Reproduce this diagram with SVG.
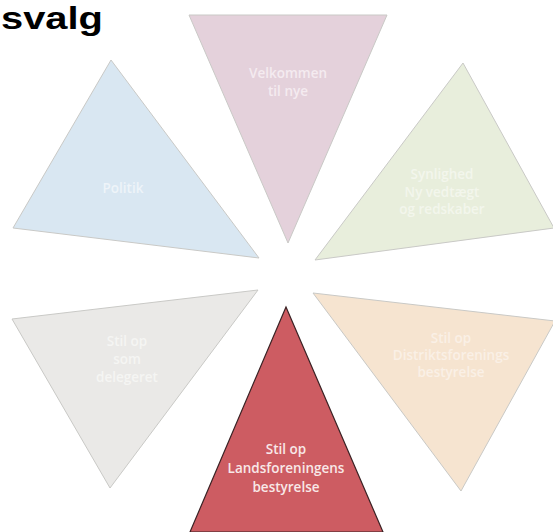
<svg xmlns="http://www.w3.org/2000/svg" width="553" height="532" viewBox="0 0 553 532">
<style>
.tri{stroke:#c9c9c6;stroke-width:1}
.lbl{font-family:"Open Sans","Noto Sans","Liberation Sans",sans-serif;font-size:13.5px;font-weight:600;text-anchor:middle}
.title{font-family:"Liberation Sans",Arial,sans-serif;font-weight:bold;font-size:31px;fill:#000}
</style>
<rect width="553" height="532" fill="#ffffff"/>
<text class="title" x="1" y="29" textLength="102" lengthAdjust="spacingAndGlyphs">svalg</text>
<g id="velkommen">
<polygon class="tri" points="189,15 387,15 288,243" fill="#e4d1db"/>
<text class="lbl" fill="#f4ebf0"><tspan x="288" y="78">Velkommen</tspan><tspan x="288" y="96">til nye</tspan></text>
</g>
<g id="politik">
<polygon class="tri" points="111,60 13,228 259,258" fill="#d9e7f2"/>
<text class="lbl" fill="#eef4f9" x="123" y="193">Politik</text>
</g>
<g id="synlighed">
<polygon class="tri" points="463,63 554,228 315,260" fill="#e8eedc"/>
<text class="lbl" fill="#f3f6ec"><tspan x="442" y="179">Synlighed</tspan><tspan x="442" y="197">Ny vedtægt</tspan><tspan x="442" y="214">og redskaber</tspan></text>
</g>
<g id="delegeret">
<polygon class="tri" points="12,319 258,290 110,488" fill="#eae9e7"/>
<text class="lbl" fill="#f5f5f3"><tspan x="127" y="346">Stil op</tspan><tspan x="127" y="364">som</tspan><tspan x="127" y="382">delegeret</tspan></text>
</g>
<g id="distrikt">
<polygon class="tri" points="313,293 555,321 461,491" fill="#f6e4d0"/>
<text class="lbl" fill="#faf0e6"><tspan x="451" y="343">Stil op</tspan><tspan x="451" y="360">Distriktsforenings</tspan><tspan x="451" y="377">bestyrelse</tspan></text>
</g>
<g id="landsforening">
<polygon points="286,307 190,532 383,532" fill="#cd5c62" stroke="#3a2224" stroke-width="1.2"/>
<text class="lbl" fill="#f8e8e8" font-size="14.5"><tspan x="286" y="454">Stil op</tspan><tspan x="286" y="473">Landsforeningens</tspan><tspan x="286" y="492">bestyrelse</tspan></text>
</g>
<g id="connectors"></g>
</svg>
